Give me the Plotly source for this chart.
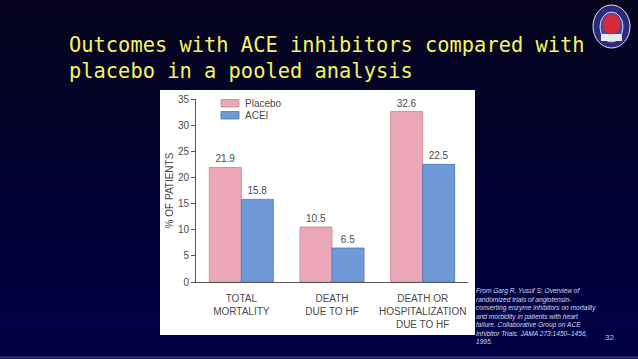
import plotly.graph_objects as go

W, H = 638, 359

# ---- data ----
categories = ["TOTAL<br>MORTALITY", "DEATH<br>DUE TO HF", "DEATH OR<br>HOSPITALIZATION<br>DUE TO HF"]
series_names = ["Placebo", "ACEI"]
placebo = [21.9, 10.5, 32.6]
acei = [15.8, 6.5, 22.5]
y_ticks = [0, 5, 10, 15, 20, 25, 30, 35]
y_title = "% OF PATIENTS"
title_lines = ["Outcomes with ACE inhibitors compared with",
               "placebo in a pooled analysis"]
citation_lines = ["From Garg R, Yusuf S: Overview of",
                  "randomized trials of angiotensin-",
                  "converting enzyme inhibitors on mortality",
                  "and morbidity in patients with heart",
                  "failure. Collaborative Group on ACE",
                  "Inhibitor Trials. JAMA 273:1450\u20131456,",
                  "1995."]
page_number = "32"

# ---- styles ----
PINK, PINK_LINE = "#eba7b7", "#c4838f"
BLUE, BLUE_LINE = "#6e9ad8", "#4b74b2"
GRAY = "#4a4a4a"
FONT = "Liberation Sans, Arial, sans-serif"
BG_TOP, BG_BOTTOM = (6, 5, 28), (0, 0, 72)


def px(x):
    return x / W


def py(y):
    return 1 - y / H


fig = go.Figure()
fig.add_trace(go.Bar(x=categories, y=placebo, name=series_names[0],
                     marker=dict(color=PINK, line=dict(color=PINK_LINE, width=0.8)),
                     text=placebo, texttemplate="%{y:.1f}", textposition="outside",
                     textfont=dict(size=10, color=GRAY, family=FONT), cliponaxis=False))
fig.add_trace(go.Bar(x=categories, y=acei, name=series_names[1],
                     marker=dict(color=BLUE, line=dict(color=BLUE_LINE, width=0.8)),
                     text=acei, texttemplate="%{y:.1f}", textposition="outside",
                     textfont=dict(size=10, color=GRAY, family=FONT), cliponaxis=False))

shapes = []
# background vertical gradient
N = 30
for k in range(N):
    t = (k + 0.5) / N
    c = tuple(round(a + (b - a) * t) for a, b in zip(BG_TOP, BG_BOTTOM))
    shapes.append(dict(type="rect", xref="paper", yref="paper", x0=0, x1=1,
                       y0=1 - (k + 1) / N - 0.002, y1=1 - k / N,
                       fillcolor="rgb(%d,%d,%d)" % c, line=dict(width=0), layer="below"))
shapes.append(dict(type="rect", xref="paper", yref="paper", x0=0, x1=1, y0=py(358.5), y1=py(356.5),
                   fillcolor="#34347a", line=dict(width=0), layer="below"))
# white chart panel
shapes.append(dict(type="rect", xref="paper", yref="paper", x0=px(160), x1=px(475),
                   y0=py(335), y1=py(90), fillcolor="white", line=dict(width=0), layer="below"))
# legend swatches
shapes.append(dict(type="rect", xref="paper", yref="paper", x0=px(221), x1=px(239),
                   y0=py(107), y1=py(99.5), fillcolor=PINK, line=dict(color=PINK_LINE, width=0.8)))
shapes.append(dict(type="rect", xref="paper", yref="paper", x0=px(221), x1=px(239),
                   y0=py(119), y1=py(111.5), fillcolor=BLUE, line=dict(color=BLUE_LINE, width=0.8)))
# logo (simplified)
shapes.append(dict(type="circle", xref="paper", yref="paper", x0=px(593), x1=px(630),
                   y0=py(48), y1=py(5), fillcolor="#2b2b7a", line=dict(color="#e8e8f0", width=1)))
shapes.append(dict(type="circle", xref="paper", yref="paper", x0=px(600), x1=px(623),
                   y0=py(42), y1=py(12), fillcolor="#4a4aa0", line=dict(color="#ffffff", width=0.8)))
shapes.append(dict(type="circle", xref="paper", yref="paper", x0=px(603), x1=px(620),
                   y0=py(34), y1=py(14), fillcolor="#d8283a", line=dict(width=0)))
shapes.append(dict(type="rect", xref="paper", yref="paper", x0=px(601), x1=px(622),
                   y0=py(41), y1=py(34), fillcolor="#e8e8f0", line=dict(width=0)))

annotations = []
for i, line in enumerate(title_lines):
    annotations.append(dict(text=line, xref="paper", yref="paper", x=px(66.5), y=py(44.5 + 26.5 * i),
                            xanchor="left", yanchor="middle", showarrow=False,
                            font=dict(family="DejaVu Sans Mono, monospace", size=20.4, color="#f4f462")))
for i, name in enumerate(series_names):
    annotations.append(dict(text=name, xref="paper", yref="paper", x=px(243), y=py(103.5 + 12 * i),
                            xanchor="left", yanchor="middle", showarrow=False,
                            font=dict(family=FONT, size=10, color=GRAY)))
annotations.append(dict(text="<br>".join(citation_lines), xref="paper", yref="paper",
                        x=px(475), y=py(315.5), xanchor="left", yanchor="middle", align="left",
                        showarrow=False, borderpad=0,
                        font=dict(family="Liberation Sans Narrow, Liberation Sans, sans-serif",
                                  size=6.6, color="#d8d8ea", style="italic")))
annotations.append(dict(text=page_number, xref="paper", yref="paper", x=px(609), y=py(337),
                        xanchor="center", yanchor="middle", showarrow=False,
                        font=dict(family=FONT, size=8, color="#c8c8d8")))

fig.update_layout(
    width=W, height=H,
    margin=dict(l=0, r=0, t=0, b=0, autoexpand=False),
    paper_bgcolor="#020238",
    plot_bgcolor="rgba(0,0,0,0)",
    showlegend=False,
    barmode="group", bargap=0.294, bargroupgap=0,
    shapes=shapes, annotations=annotations,
    xaxis=dict(domain=[px(196), px(468)], range=[-0.5, 2.5], showline=True, linecolor="#555",
               linewidth=1, ticks="", showgrid=False, zeroline=False, automargin=False,
               ticklabelstandoff=7,
               tickfont=dict(family=FONT, size=10, color=GRAY)),
    yaxis=dict(domain=[py(282), py(99)], range=[0, 35], tickvals=y_ticks, showline=True,
               linecolor="#555", linewidth=1, ticks="outside", ticklen=4, tickcolor="#555",
               showgrid=False, zeroline=False, automargin=False,
               tickfont=dict(family=FONT, size=10, color=GRAY),
               title=dict(text=y_title, standoff=2, font=dict(family=FONT, size=10, color=GRAY))),
)

fig.write_html("out.html", config={"displayModeBar": False},
               post_script="document.body.style.margin='0';document.body.style.background='#020238';")
